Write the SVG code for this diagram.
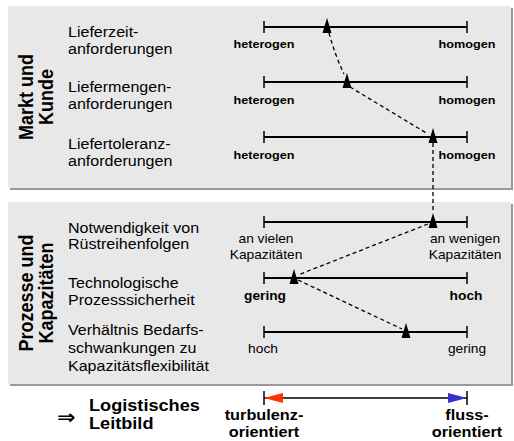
<svg xmlns="http://www.w3.org/2000/svg" width="514" height="441" viewBox="0 0 514 441">
<defs>
<style>
text{font-family:"Liberation Sans",Arial,Helvetica,sans-serif;fill:#000}
.lbl{font-size:14.6px}
.grp{font-size:18px;font-weight:bold;text-anchor:middle}
.eb{font-size:11.5px;font-weight:bold;text-anchor:middle}
.er{font-size:12.5px;text-anchor:middle}
.eb2{font-size:12.5px;font-weight:bold;text-anchor:middle}
.bt{font-size:16.5px;font-weight:bold}
.bc{font-size:14.8px;font-weight:bold;text-anchor:middle}
.box{fill:#e8e8e8}
.shadow{fill:#999}
.scale{stroke:#000;stroke-width:2;fill:none}
.tick{stroke:#000;stroke-width:1.5}
.dash{stroke:#000;stroke-width:1.3;stroke-dasharray:4 3;fill:none}
.tri{fill:#000}
</style>
<path id="tri" d="M0,-9 L4.5,6 L-4.5,6 Z"/>
</defs>
<g id="panel-markt">
<rect class="shadow" x="10" y="8" width="503" height="182"/>
<rect class="box" x="8" y="6" width="503" height="182"/>
<text class="grp" transform="translate(33,97) scale(1.1,1) rotate(-90)">Markt und</text>
<text class="grp" transform="translate(53,97) scale(1.1,1) rotate(-90)">Kunde</text>
</g>
<g id="panel-prozesse">
<rect class="shadow" x="10" y="204" width="503" height="182"/>
<rect class="box" x="8" y="202" width="503" height="182"/>
<text class="grp" transform="translate(33,293) scale(1.1,1) rotate(-90)">Prozesse und</text>
<text class="grp" transform="translate(53,293) scale(1.1,1) rotate(-90)">Kapazitäten</text>
</g>
<g id="row1">
<text class="lbl" transform="translate(68,37) scale(1.1,1)"><tspan x="0" y="0">Lieferzeit-</tspan><tspan x="0" y="17">anforderungen</tspan></text>
<path class="scale" d="M264,27 H467"/><path class="tick" d="M264,21 V33 M467,21 V33"/>
<text class="eb" transform="translate(264,48) scale(1.1,1)">heterogen</text>
<text class="eb" transform="translate(467,48) scale(1.1,1)">homogen</text>
<use href="#tri" class="tri" x="327" y="27"/>
</g>
<g id="row2">
<text class="lbl" transform="translate(68,92) scale(1.1,1)"><tspan x="0" y="0">Liefermengen-</tspan><tspan x="0" y="17">anforderungen</tspan></text>
<path class="scale" d="M264,82 H467"/><path class="tick" d="M264,76 V88 M467,76 V88"/>
<text class="eb" transform="translate(264,104) scale(1.1,1)">heterogen</text>
<text class="eb" transform="translate(467,104) scale(1.1,1)">homogen</text>
<use href="#tri" class="tri" x="347" y="82"/>
</g>
<g id="row3">
<text class="lbl" transform="translate(68,149) scale(1.1,1)"><tspan x="0" y="0">Liefertoleranz-</tspan><tspan x="0" y="17">anforderungen</tspan></text>
<path class="scale" d="M264,137 H467"/><path class="tick" d="M264,131 V143 M467,131 V143"/>
<text class="eb" transform="translate(264,159) scale(1.1,1)">heterogen</text>
<text class="eb" transform="translate(467,159) scale(1.1,1)">homogen</text>
<use href="#tri" class="tri" x="433" y="137"/>
</g>
<g id="row4">
<text class="lbl" transform="translate(68,233) scale(1.1,1)"><tspan x="0" y="0">Notwendigkeit von</tspan><tspan x="0" y="16">Rüstreihenfolgen</tspan></text>
<path class="scale" d="M264,222 H467"/><path class="tick" d="M264,216 V228 M467,216 V228"/>
<text class="er" transform="translate(266,243) scale(1.1,1)"><tspan x="0" y="0">an vielen</tspan><tspan x="0" y="16">Kapazitäten</tspan></text>
<text class="er" transform="translate(465,243) scale(1.1,1)"><tspan x="0" y="0">an wenigen</tspan><tspan x="0" y="16">Kapazitäten</tspan></text>
<use href="#tri" class="tri" x="433" y="222"/>
</g>
<g id="row5">
<text class="lbl" transform="translate(68,288) scale(1.1,1)"><tspan x="0" y="0">Technologische</tspan><tspan x="0" y="17">Prozesssicherheit</tspan></text>
<path class="scale" d="M264,278 H467"/><path class="tick" d="M264,272 V284 M467,272 V284"/>
<text class="eb2" transform="translate(265,300) scale(1.1,1)">gering</text>
<text class="eb2" transform="translate(466,300) scale(1.1,1)">hoch</text>
<use href="#tri" class="tri" x="294" y="278"/>
</g>
<g id="row6">
<text class="lbl" transform="translate(68,335) scale(1.1,1)"><tspan x="0" y="0">Verhältnis Bedarfs-</tspan><tspan x="0" y="18">schwankungen zu</tspan><tspan x="0" y="36">Kapazitätsflexibilität</tspan></text>
<path class="scale" d="M264,332 H467"/><path class="tick" d="M264,326 V338 M467,326 V338"/>
<text class="er" transform="translate(263,353) scale(1.1,1)">hoch</text>
<text class="er" transform="translate(467,353) scale(1.1,1)">gering</text>
<use href="#tri" class="tri" x="406" y="332"/>
</g>
<g id="connectors">
<path class="dash" d="M329,33 Q335,55 344,74"/>
<path class="dash" d="M350,87 L428,134"/>
<path class="dash" d="M433,143 L433,213"/>
<path class="dash" d="M428,224 L298,275"/>
<path class="dash" d="M298,280 L402,329"/>
</g>
<g id="leitbild">
<text transform="translate(57,424) scale(1.1,1)" style="font-family:'DejaVu Sans',sans-serif;font-size:20px;font-weight:bold">⇒</text>
<text class="bt" transform="translate(89,411) scale(1.1,1)"><tspan x="0" y="0">Logistisches</tspan><tspan x="0" y="18">Leitbild</tspan></text>
<path d="M264,398 H467" stroke="#000" stroke-width="1.5"/>
<path class="tick" d="M264,391 V405 M467,391 V405"/>
<path d="M264,398 L283,393 L283,403 Z" fill="#ff3300"/>
<path d="M467,398 L448,393 L448,403 Z" fill="#3333cc"/>
<text class="bc" transform="translate(264,420) scale(1.1,1)"><tspan x="0" y="0">turbulenz-</tspan><tspan x="0" y="17">orientiert</tspan></text>
<text class="bc" transform="translate(467,420) scale(1.1,1)"><tspan x="0" y="0">fluss-</tspan><tspan x="0" y="17">orientiert</tspan></text>
</g>
</svg>
